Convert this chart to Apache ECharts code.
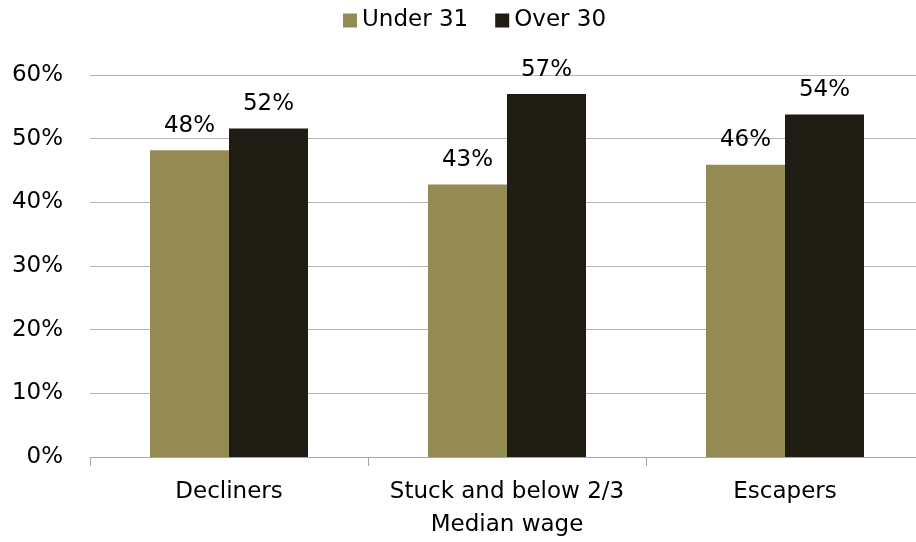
<!DOCTYPE html>
<html>
<head>
<meta charset="utf-8">
<script src="https://cdn.jsdelivr.net/npm/echarts@6/dist/echarts.min.js"></script>
<style>
html,body{margin:0;padding:0;background:#fff;overflow:hidden;width:916px;height:542px;}
#c{width:924px;height:542px;}
</style>
</head>
<body>
<div id="c"></div>
<script>
const categories = ['Decliners', 'Stuck and below 2/3\nMedian wage', 'Escapers'];
const seriesNames = ['Under 31', 'Over 30'];
const under31 = [48.2, 42.8, 45.9];
const over30 = [51.6, 57.0, 53.8];
const yTicks = [0, 10, 20, 30, 40, 50, 60];

const FONT = 'DejaVu Sans';
const FS = 23;
const chart = echarts.init(document.getElementById('c'), null, {renderer: 'canvas'});
const labelCfg = {
  show: true, position: 'top', distance: 13,
  fontFamily: FONT, fontSize: FS, color: '#000',
  formatter: p => Math.round(p.value) + '%'
};
chart.setOption({
  animation: false,
  backgroundColor: '#fff',
  legend: {
    data: seriesNames,
    left: 343, top: 9, padding: 0,
    itemWidth: 14, itemHeight: 14, itemGap: 27,
    icon: 'rect',
    textStyle: {fontFamily: FONT, fontSize: FS, color: '#000'}
  },
  grid: {left: 90, right: 0, top: 75, bottom: 84, containLabel: false},
  xAxis: {
    type: 'category',
    data: categories,
    axisLine: {show: true, lineStyle: {color: '#a6a6a6', width: 1}},
    axisTick: {show: true, interval: 0, length: 9, lineStyle: {color: '#a6a6a6'}},
    axisLabel: {interval: 0, fontFamily: FONT, fontSize: FS, color: '#000', margin: 19, lineHeight: 33}
  },
  yAxis: {
    type: 'value',
    min: yTicks[0], max: yTicks[yTicks.length - 1], interval: 10,
    axisLine: {show: false},
    axisTick: {show: false},
    splitLine: {lineStyle: {color: '#b3b3b3', width: 1}},
    axisLabel: {fontFamily: FONT, fontSize: FS, color: '#000', margin: 27,
      formatter: v => v + '%'}
  },
  series: [
    {name: seriesNames[0], type: 'bar', data: under31, barWidth: 79, barGap: '0%',
     itemStyle: {color: '#948A54'}, label: labelCfg},
    {name: seriesNames[1], type: 'bar', data: over30, barWidth: 79, barGap: '0%',
     itemStyle: {color: '#1F1D13'}, label: labelCfg}
  ]
});
</script>
</body>
</html>
